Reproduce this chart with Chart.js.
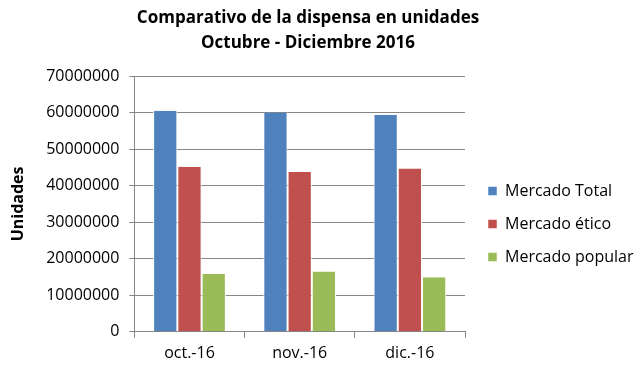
<!DOCTYPE html>
<html>
<head>
<meta charset="utf-8">
<script src="https://cdn.jsdelivr.net/npm/chart.js@4"></script>
<style>
  html, body { margin: 0; padding: 0; background: #fff; }
  #wrap { width: 642px; height: 377px; }
</style>
</head>
<body>
<div id="wrap"><canvas id="myChart" width="642" height="377"></canvas></div>
<script>
const months = ['oct.-16', 'nov.-16', 'dic.-16'];
const mercadoTotal = [60500000, 60000000, 59400000];
const mercadoEtico = [45200000, 43700000, 44700000];
const mercadoPopular = [15800000, 16500000, 14900000];

const gridColor = '#868686';
const fontName = "'Open Sans', sans-serif";

const data = {
  labels: months,
  datasets: [
    { label: 'Mercado Total', data: mercadoTotal, backgroundColor: '#4F81BD' },
    { label: 'Mercado ético', data: mercadoEtico, backgroundColor: '#C0504D' },
    { label: 'Mercado popular', data: mercadoPopular, backgroundColor: '#9BBB59' }
  ]
};

// nudge title and legend a bit, like the excel original
const nudge = {
  id: 'nudge',
  afterLayout(chart) {
    const t = chart.titleBlock;
    if (t) { t.left -= 10; }
    const lg = chart.legend;
    if (lg) {
      const dy = 224 - (lg.top + lg.bottom) / 2;
      lg.top += dy; lg.bottom += dy;
      lg.left += 6;
      lg.right = chart.width;
    }
  }
};

// config
const config = {
  type: 'bar',
  data,
  options: {
    responsive: false,
    animation: false,
    layout: { padding: { left: 9, right: 25, bottom: 8 } },
    datasets: {
      bar: {
        barPercentage: 1,
        categoryPercentage: 0.66,
        borderColor: '#ffffff',
        borderWidth: { left: 1, right: 1 }
      }
    },
    plugins: {
      title: {
        display: true,
        text: ['Comparativo de la dispensa en unidades', 'Octubre - Diciembre 2016'],
        color: '#000',
        font: { family: fontName, size: 17, weight: 'bold', lineHeight: 1.5 },
        padding: { top: 5, bottom: 20 }
      },
      legend: {
        position: 'right',
        labels: {
          color: '#000',
          font: { family: fontName, size: 16 },
          boxWidth: 9,
          boxHeight: 9,
          padding: 17
        }
      },
      tooltip: { enabled: false }
    },
    scales: {
      x: {
        grid: { drawOnChartArea: false, color: gridColor, tickLength: 6 },
        border: { color: gridColor },
        ticks: { color: '#000', font: { family: fontName, size: 16 }, padding: 6 }
      },
      y: {
        min: 0,
        max: 70000000,
        grid: { color: gridColor, tickLength: 5 },
        border: { color: gridColor },
        ticks: {
          stepSize: 10000000,
          color: '#000',
          font: { family: fontName, size: 16 },
          padding: 10,
          callback: v => String(v)
        },
        title: {
          display: true,
          text: 'Unidades',
          color: '#000',
          font: { family: fontName, size: 16, weight: 'bold' },
          padding: { top: 0, bottom: 8 }
        }
      }
    }
  },
  plugins: [nudge]
};

// render
const myChart = new Chart(document.getElementById('myChart'), config);
</script>
</body>
</html>
